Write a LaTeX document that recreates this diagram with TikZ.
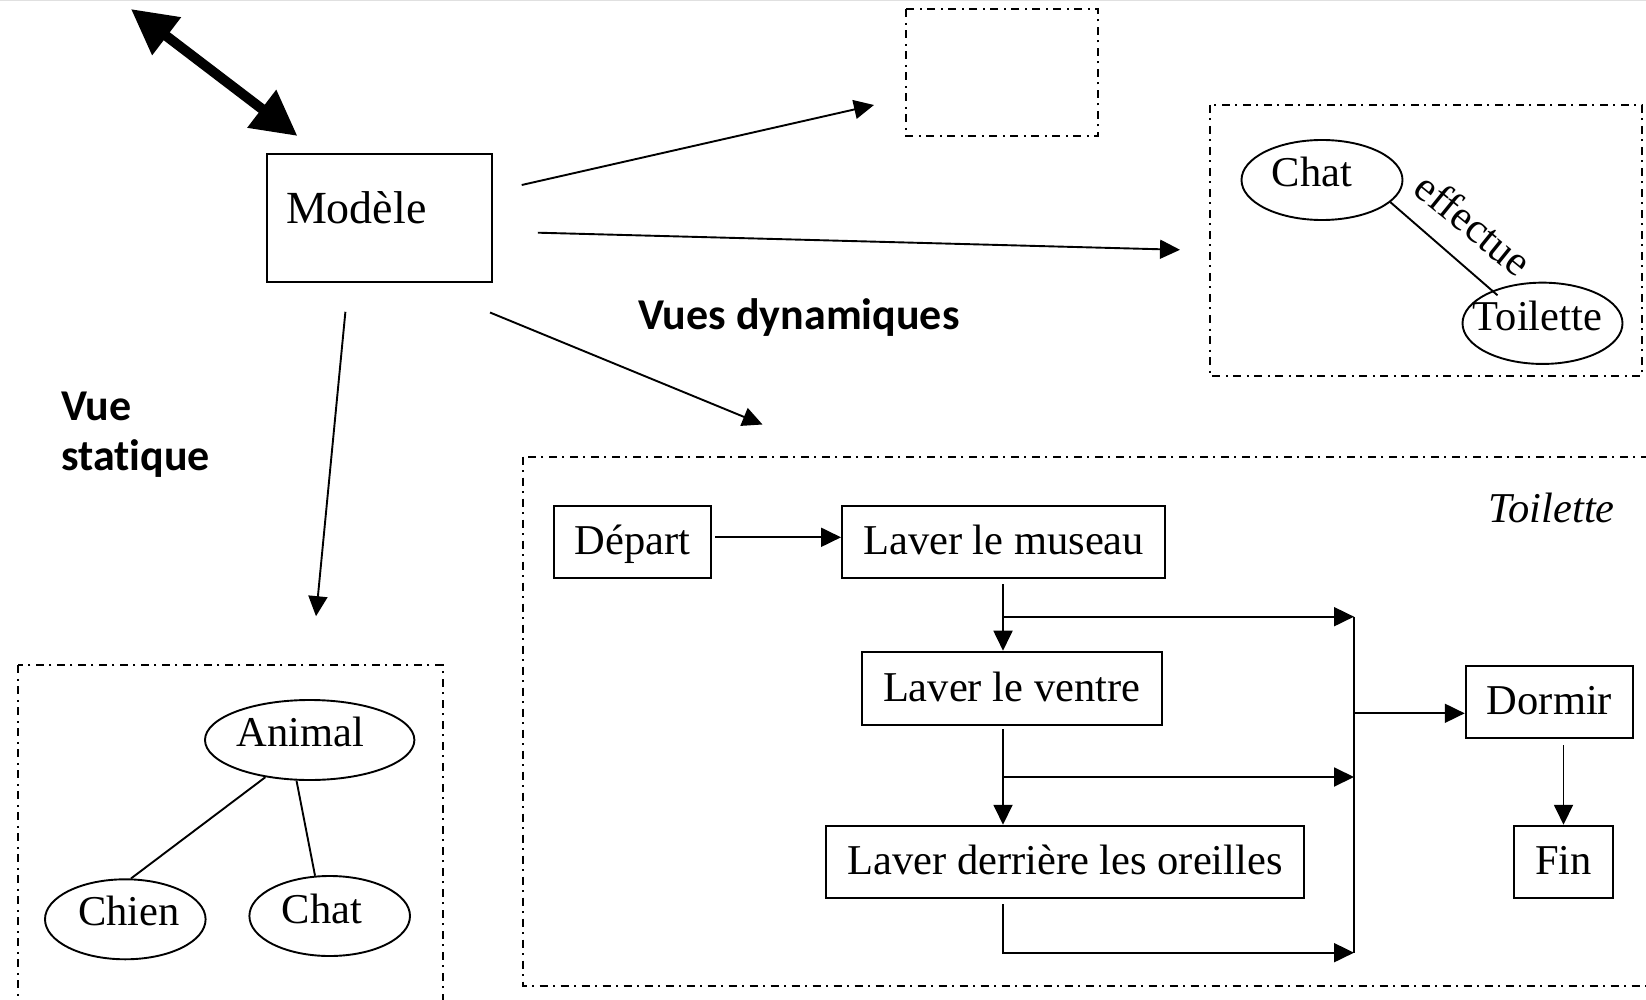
\documentclass[tikz,border=0pt]{standalone}
\usepackage{fontspec}
\setmainfont{Liberation Serif}
\newfontfamily\carl[Ligatures=NoCommon]{Carlito}
\usetikzlibrary{arrows.meta,shapes.geometric,calc}
\newcommand\myflowfont{\fontsize{42.5}{51}\selectfont}
\newcommand\mymodfont{\fontsize{46}{55}\selectfont}
\newcommand\mylabfont{\carl\bfseries\fontsize{44}{50}\selectfont}
\begin{document}
\begin{tikzpicture}[x=1pt,y=-1pt,
  dd/.style={line width=2pt, dash pattern=on 8pt off 5.5pt on 2pt off 5.5pt},
  ln/.style={line width=1.9pt},
  arr/.style={line width=1.9pt, -{Triangle[length=20pt,width=19pt]}},
  boxn/.style={draw, line width=1.9pt, inner sep=0pt, text height=34pt, text depth=8.5pt, font=\myflowfont},
  ell/.style={draw, ellipse, line width=1.9pt, inner sep=0pt},
  txt/.style={inner sep=0pt, font=\myflowfont, anchor=base},
  lab/.style={inner sep=0pt, font=\mylabfont, anchor=base west}]
\useasboundingbox (0,0) rectangle (1646,1000);
\clip (0,0) rectangle (1646,1000);
\fill[white] (0,0) rectangle (1646,1000);
\draw[black!12, line width=1.5pt] (0,0.75) -- (1646,0.75);

% dashed frames
\draw[dd] (906,9.3) rectangle (1098.3,136);
\draw[dd] (1210.3,105) rectangle (1642,376);
\draw[dd] (17.5,665.3) rectangle (442.5,1020);
\draw[dd] (522.5,456.7) rectangle (1680,985.7);

% double arrow
\coordinate (da1) at (130.9,9);
\coordinate (da2) at (297.5,136);
\draw[line width=10pt, {Triangle[length=45pt,width=45pt]}-{Triangle[length=45pt,width=45pt]}] (da1) -- (da2);

% Modele
\node[draw, line width=1.9pt, anchor=north west, inner xsep=19.5pt, inner ysep=0pt,
      text width=186pt, align=left, text height=69.4pt, text depth=58.8pt, font=\mymodfont]
      (modele) at (265.6,153.3) {Modèle};

% arrows from Modele
\coordinate (m1) at (521.7,185);   \coordinate (e1) at (874,105);
\coordinate (m2) at (537.9,232.7); \coordinate (e2) at (1180,249.8);
\coordinate (m3) at (490,312.5);   \coordinate (e3) at (762.5,424.5);
\coordinate (m4) at (345.4,311.8); \coordinate (e4) at (316,616.2);
\draw[arr] (m1) -- (e1);
\draw[arr] (m2) -- (e2);
\draw[arr] (m3) -- (e3);
\draw[arr] (m4) -- (e4);

% labels
\node[lab] (vd) at (638,330) {Vues dynamiques};
\node[lab] (vs1) at (61,420) {Vue};
\node[lab] (vs2) at (61,470) {statique};

% top-right: Chat effectue Toilette
\node[ell, minimum width=161pt, minimum height=80pt] (chat1) at (1322,180) {};
\node[ell, minimum width=160pt, minimum height=81.3pt] (toil) at (1542.5,323.3) {};
\node[txt] (chat1t) at (1312,186.7) {Chat};
\node[txt] (toilt) at (1537.4,330.7) {Toilette};
\draw[ln] (chat1.-18) -- ($(toil.center)+(-45,-28)$);
\node[txt, anchor=center, rotate=-39] (eff) at (1473.5,224) {effectue};

% bottom-left: Animal
\node[ell, minimum width=209.4pt, minimum height=80pt] (animal) at (309.7,740) {};
\node[ell, minimum width=160.6pt, minimum height=80pt] (chien) at (125.3,919.3) {};
\node[ell, minimum width=160.6pt, minimum height=80pt] (chat2) at (329.7,916) {};
\node[txt] (animalt) at (300.7,746.7) {Animal};
\node[txt] (chient) at (129,925) {Chien};
\node[txt] (chat2t) at (322,923.3) {Chat};
\draw[ln] (animal.220.7) -- (chien.82);
\draw[ln] (animal.252.4) -- (chat2.110.2);

% flow chart
\node[txt] (toiltitle) at (1551.7,522.7) {\itshape Toilette};
\node[boxn, minimum width=157.6pt, minimum height=72pt] (depart) at (632.4,541.7) {Départ};
\node[boxn, minimum width=323.2pt, minimum height=72pt] (museau) at (1003.6,541.7) {Laver le museau};
\node[boxn, minimum width=300pt, minimum height=73.3pt] (ventre) at (1011.6,688.3) {Laver le ventre};
\node[boxn, minimum width=478.6pt, minimum height=72.6pt] (oreil) at (1065,862) {Laver derrière les oreilles};
\node[boxn, minimum width=167.6pt, minimum height=72.6pt] (dormir) at (1549.5,702) {Dormir};
\node[boxn, minimum width=98.4pt, minimum height=72pt] (fin) at (1563.5,861.7) {Fin};

\draw[arr] ([xshift=3pt,yshift=4.4pt]depart.east) -- ([yshift=4.4pt]museau.west);

\coordinate (c1) at (1354,616.7);
\coordinate (c2) at (1354,777);
\coordinate (c3) at (1354,952.7);
\coordinate (c4) at (1354,713.3);
\coordinate (t1) at (1003,584.3);
\coordinate (t2) at (1003,729);
\coordinate (t3) at (1003,904.3);
\draw[arr] (t1) -- (t1 |- ventre.north);
\draw[arr] (t1 |- c1) -- (c1);
\draw[arr] (t2) -- (t2 |- oreil.north);
\draw[arr] (t2 |- c2) -- (c2);
\draw[arr] (t3) -- (t3 |- c3) -- (c3);
\draw[ln] (c1) -- (c3);
\draw[arr] (c4) -- (c4 -| dormir.west);
\coordinate (d1) at (1563.5,745);
\draw[arr] (d1) -- (d1 |- fin.north);
\end{tikzpicture}
\end{document}
